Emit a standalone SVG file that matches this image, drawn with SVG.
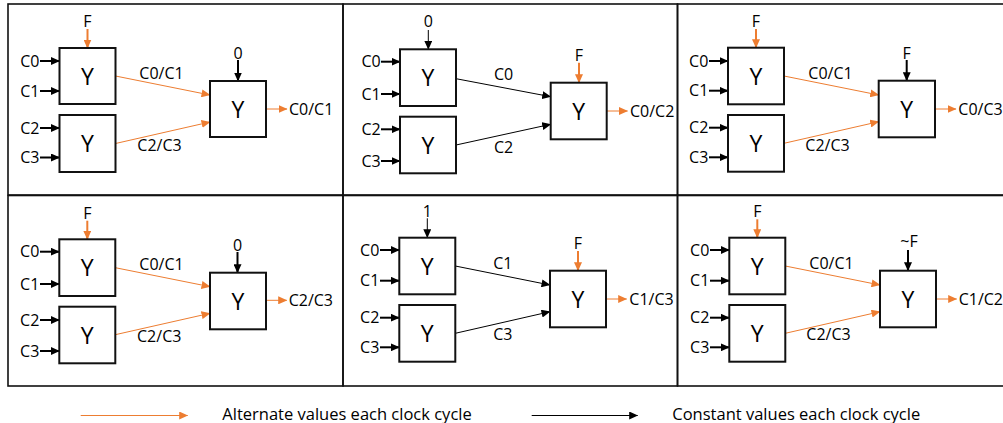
<svg xmlns="http://www.w3.org/2000/svg" width="1003" height="423" viewBox="0 0 1003 423">
<style>
text{font-family:"Open Sans","Liberation Sans",sans-serif;font-size:16px;fill:#000}
.y{font-size:23px;text-anchor:middle}
.m{text-anchor:middle}
.e{text-anchor:end}
.lg{font-size:16.5px}
.frame{fill:none;stroke:#111;stroke-width:1.6}
.box{fill:#fff;stroke:#111;stroke-width:2}
.in{stroke:#000;stroke-width:2;marker-end:url(#ab)}
.kt{stroke:#000;stroke-width:1;marker-end:url(#ab)}
.ot{stroke:#ED7D31;stroke-width:2;marker-end:url(#ao)}
.oc{stroke:#ED7D31;stroke-width:1;marker-end:url(#ao)}
</style>
<defs>
<marker id="ab" viewBox="0 0 9 8" refX="8.5" refY="4" markerWidth="9" markerHeight="8" markerUnits="userSpaceOnUse" orient="auto"><path d="M0,0 L9,4 L0,8 z" fill="#000"/></marker>
<marker id="ao" viewBox="0 0 9 8" refX="8.5" refY="4" markerWidth="9" markerHeight="8" markerUnits="userSpaceOnUse" orient="auto"><path d="M0,0 L9,4 L0,8 z" fill="#ED7D31"/></marker>
</defs>

<g id="frames">
<rect class="frame" x="8" y="4" width="335" height="191"/>
<rect class="frame" x="343" y="4" width="334.5" height="191"/>
<rect class="frame" x="677.5" y="4" width="330" height="191"/>
<rect class="frame" x="8" y="195.5" width="335" height="190.5"/>
<rect class="frame" x="343" y="195.5" width="334.5" height="190.5"/>
<rect class="frame" x="677.5" y="195.5" width="330" height="190.5"/>
</g>

<g id="connectors">
<!-- panel 1 -->
<line class="in" x1="40" y1="61" x2="59.5" y2="61"/>
<line class="in" x1="40" y1="91" x2="59.5" y2="91"/>
<line class="in" x1="40" y1="128" x2="59.5" y2="128"/>
<line class="in" x1="40" y1="157.5" x2="59.5" y2="157.5"/>
<line class="ot" x1="87.5" y1="29" x2="87.5" y2="48"/>
<line class="in" x1="238" y1="60" x2="238" y2="81"/>
<line class="oc" x1="115.5" y1="76" x2="210" y2="95"/>
<line class="oc" x1="115.5" y1="143.5" x2="210" y2="122"/>
<line class="oc" x1="266" y1="109" x2="287" y2="109"/>
<!-- panel 2 -->
<line class="in" x1="381" y1="61.7" x2="400" y2="61.7"/>
<line class="in" x1="381" y1="94" x2="400" y2="94"/>
<line class="in" x1="381" y1="129.3" x2="400" y2="129.3"/>
<line class="in" x1="381" y1="161" x2="400" y2="161"/>
<line class="kt" x1="428.3" y1="30" x2="428.3" y2="49.3"/>
<line class="ot" x1="579" y1="62.7" x2="579" y2="82.7"/>
<line class="kt" x1="456" y1="78.7" x2="550.7" y2="96.7"/>
<line class="kt" x1="456" y1="145" x2="550.7" y2="124.3"/>
<line class="oc" x1="606.7" y1="111" x2="627.5" y2="111"/>
<!-- panel 3 -->
<line class="in" x1="709" y1="61" x2="728" y2="61"/>
<line class="in" x1="709" y1="90.7" x2="728" y2="90.7"/>
<line class="in" x1="709" y1="127.7" x2="728" y2="127.7"/>
<line class="in" x1="709" y1="157.3" x2="728" y2="157.3"/>
<line class="ot" x1="756" y1="29" x2="756" y2="47.7"/>
<line class="in" x1="906.7" y1="60" x2="906.7" y2="80.7"/>
<line class="oc" x1="784" y1="76" x2="878.7" y2="95"/>
<line class="oc" x1="784" y1="143.3" x2="878.7" y2="121.7"/>
<line class="oc" x1="935" y1="109" x2="956" y2="109"/>
<!-- panel 4 -->
<line class="in" x1="40" y1="251.7" x2="59.3" y2="251.7"/>
<line class="in" x1="40" y1="284" x2="59.3" y2="284"/>
<line class="in" x1="40" y1="320" x2="59.3" y2="320"/>
<line class="in" x1="40" y1="351" x2="59.3" y2="351"/>
<line class="ot" x1="87.3" y1="220.7" x2="87.3" y2="239.3"/>
<line class="in" x1="237.5" y1="252" x2="237.5" y2="272.7"/>
<line class="oc" x1="115.3" y1="267.7" x2="210" y2="286.7"/>
<line class="oc" x1="115.3" y1="334.7" x2="210" y2="313.3"/>
<line class="oc" x1="266" y1="300.3" x2="286.7" y2="300.3"/>
<!-- panel 5 -->
<line class="in" x1="380" y1="250" x2="399.3" y2="250"/>
<line class="in" x1="380" y1="280.7" x2="399.3" y2="280.7"/>
<line class="in" x1="380" y1="317.7" x2="399.3" y2="317.7"/>
<line class="in" x1="380" y1="347.3" x2="399.3" y2="347.3"/>
<line class="kt" x1="427.3" y1="218.3" x2="427.3" y2="237.7"/>
<line class="ot" x1="578" y1="251" x2="578" y2="270.7"/>
<line class="kt" x1="455.3" y1="266" x2="550" y2="285"/>
<line class="kt" x1="455.3" y1="333.3" x2="550" y2="311.7"/>
<line class="oc" x1="606" y1="299" x2="626.7" y2="299"/>
<!-- panel 6 -->
<line class="in" x1="710" y1="250" x2="729.3" y2="250"/>
<line class="in" x1="710" y1="280.7" x2="729.3" y2="280.7"/>
<line class="in" x1="710" y1="317.7" x2="729.3" y2="317.7"/>
<line class="in" x1="710" y1="347.3" x2="729.3" y2="347.3"/>
<line class="ot" x1="757.3" y1="219.3" x2="757.3" y2="237.7"/>
<line class="in" x1="908" y1="250" x2="908" y2="270.7"/>
<line class="oc" x1="785.3" y1="266" x2="880" y2="285"/>
<line class="oc" x1="785.3" y1="333.3" x2="880" y2="311.7"/>
<line class="oc" x1="936" y1="299" x2="956.7" y2="299"/>
<!-- legend -->
<line class="oc" x1="80.7" y1="415.5" x2="187.7" y2="415.5"/>
<line class="kt" x1="531.7" y1="415.5" x2="637.7" y2="415.5"/>
</g>

<g id="panel1">
<rect class="box" x="59.5" y="48" width="56" height="56"/>
<rect class="box" x="59.5" y="115" width="56" height="57"/>
<rect class="box" x="210" y="81" width="56" height="56"/>
<text class="y" x="87.5" y="84.5">Y</text>
<text class="y" x="87.5" y="152">Y</text>
<text class="y" x="238" y="117.5">Y</text>
<text class="e" x="39.5" y="66.7">C0</text>
<text class="e" x="39.5" y="96.7">C1</text>
<text class="e" x="39.5" y="133.7">C2</text>
<text class="e" x="39.5" y="163.2">C3</text>
<text class="m" x="87.5" y="27">F</text>
<text class="m" x="238" y="59">0</text>
<text class="m" x="161.5" y="79">C0/C1</text>
<text class="m" x="159.5" y="150.5">C2/C3</text>
<text x="289" y="114.7">C0/C1</text>
</g>

<g id="panel2">
<rect class="box" x="400" y="49.3" width="56" height="56.7"/>
<rect class="box" x="400" y="116.7" width="56" height="56.6"/>
<rect class="box" x="550.7" y="82.7" width="56" height="56.6"/>
<text class="y" x="428" y="86">Y</text>
<text class="y" x="428" y="153.5">Y</text>
<text class="y" x="578.7" y="119.5">Y</text>
<text class="e" x="380.7" y="67.4">C0</text>
<text class="e" x="380.7" y="99.7">C1</text>
<text class="e" x="380.7" y="135">C2</text>
<text class="e" x="380.7" y="166.7">C3</text>
<text class="m" x="428.3" y="27.3">0</text>
<text class="m" x="579" y="60.7">F</text>
<text class="m" x="503.5" y="80">C0</text>
<text class="m" x="503.5" y="152.7">C2</text>
<text x="630" y="116.7">C0/C2</text>
</g>

<g id="panel3">
<rect class="box" x="728" y="47.7" width="56" height="56.6"/>
<rect class="box" x="728" y="115" width="56" height="56.7"/>
<rect class="box" x="878.7" y="80.7" width="56.3" height="56.6"/>
<text class="y" x="756" y="84.5">Y</text>
<text class="y" x="756" y="152">Y</text>
<text class="y" x="906.8" y="117.5">Y</text>
<text class="e" x="708.3" y="66.7">C0</text>
<text class="e" x="708.3" y="96.4">C1</text>
<text class="e" x="708.3" y="133.4">C2</text>
<text class="e" x="708.3" y="163">C3</text>
<text class="m" x="756" y="27">F</text>
<text class="m" x="906.7" y="59">F</text>
<text class="m" x="830.5" y="79">C0/C1</text>
<text class="m" x="827.5" y="150.5">C2/C3</text>
<text x="958.3" y="114.7">C0/C3</text>
</g>

<g id="panel4">
<rect class="box" x="59.3" y="239.3" width="56" height="56.7"/>
<rect class="box" x="59.3" y="306.7" width="56" height="56.6"/>
<rect class="box" x="210" y="272.7" width="56" height="56.6"/>
<text class="y" x="87.3" y="276">Y</text>
<text class="y" x="87.3" y="343.5">Y</text>
<text class="y" x="238" y="309.5">Y</text>
<text class="e" x="39.3" y="257.4">C0</text>
<text class="e" x="39.3" y="289.7">C1</text>
<text class="e" x="39.3" y="325.7">C2</text>
<text class="e" x="39.3" y="356.7">C3</text>
<text class="m" x="87.3" y="218.7">F</text>
<text class="m" x="237.5" y="250.7">0</text>
<text class="m" x="161.5" y="270">C0/C1</text>
<text class="m" x="159.2" y="341.7">C2/C3</text>
<text x="288.7" y="306">C2/C3</text>
</g>

<g id="panel5">
<rect class="box" x="399.3" y="237.7" width="56" height="56.6"/>
<rect class="box" x="399.3" y="305" width="56" height="56.7"/>
<rect class="box" x="550" y="270.7" width="56" height="56.6"/>
<text class="y" x="427.3" y="274.5">Y</text>
<text class="y" x="427.3" y="342">Y</text>
<text class="y" x="578" y="307.5">Y</text>
<text class="e" x="379.3" y="255.7">C0</text>
<text class="e" x="379.3" y="286.4">C1</text>
<text class="e" x="379.3" y="323.4">C2</text>
<text class="e" x="379.3" y="353">C3</text>
<text class="m" x="427.3" y="216.7">1</text>
<text class="m" x="578" y="249.3">F</text>
<text class="m" x="502.8" y="269">C1</text>
<text class="m" x="502.8" y="340">C3</text>
<text x="629.3" y="305">C1/C3</text>
</g>

<g id="panel6">
<rect class="box" x="729.3" y="237.7" width="56" height="56.6"/>
<rect class="box" x="729.3" y="305" width="56" height="56.7"/>
<rect class="box" x="880" y="270.7" width="56" height="56.6"/>
<text class="y" x="757.3" y="274.5">Y</text>
<text class="y" x="757.3" y="342">Y</text>
<text class="y" x="908" y="307.5">Y</text>
<text class="e" x="709.3" y="255.7">C0</text>
<text class="e" x="709.3" y="286.4">C1</text>
<text class="e" x="709.3" y="323.4">C2</text>
<text class="e" x="709.3" y="353">C3</text>
<text class="m" x="757.3" y="217.3">F</text>
<text class="m" x="909" y="247">~F</text>
<text class="m" x="831.5" y="269">C0/C1</text>
<text class="m" x="828.5" y="340">C2/C3</text>
<text x="958.7" y="305">C1/C2</text>
</g>

<g id="legend">
<text class="lg" x="222.3" y="420">Alternate values each clock cycle</text>
<text class="lg" x="672.3" y="420">Constant values each clock cycle</text>
</g>
</svg>
